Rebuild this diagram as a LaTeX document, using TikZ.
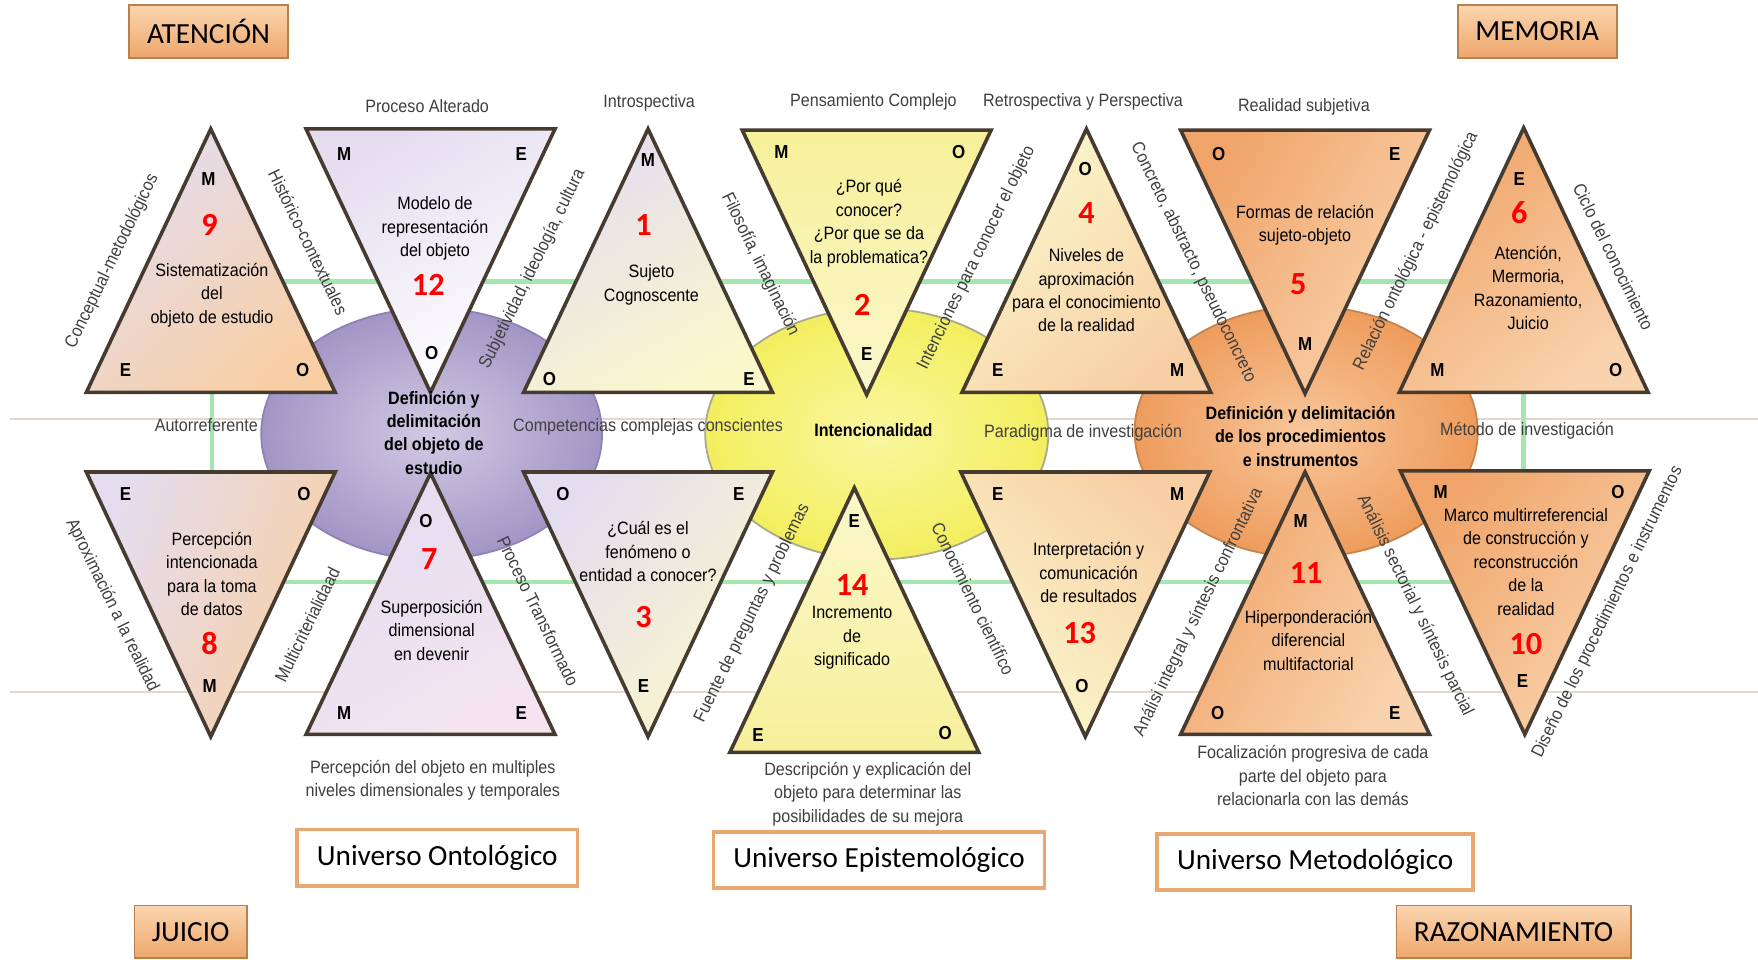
\documentclass[tikz,border=0pt]{standalone}
\usepackage{fontspec}
\setmainfont[FakeStretch=0.9]{Liberation Sans}
\newfontfamily\boxfont{Carlito}
\usepackage{tikz}

\definecolor{triline}{HTML}{463B30}
\definecolor{sidegray}{HTML}{3F3F3F}
\definecolor{greenln}{HTML}{A3E6AE}
\definecolor{faintln}{HTML}{E4D8C8}
\definecolor{boxtop}{HTML}{FBD5AF}
\definecolor{boxbot}{HTML}{EEA76C}
\definecolor{boxline}{HTML}{B9804C}
\definecolor{uniline}{HTML}{E9A871}
\definecolor{lav}{HTML}{E4DDF0}
\definecolor{peach}{HTML}{F8CFA5}
\definecolor{paleyel}{HTML}{FBF7CC}
\definecolor{yel}{HTML}{F6F09A}
\definecolor{orng}{HTML}{F0A469}
\definecolor{lorng}{HTML}{F9D3AE}
\definecolor{pinklav}{HTML}{F4E4F0}
\definecolor{purpin}{HTML}{D2CAE4}
\definecolor{purpout}{HTML}{A295C5}
\definecolor{purpline}{HTML}{8E81B4}
\definecolor{yelin}{HTML}{FAF7A0}
\definecolor{yelout}{HTML}{F3EE5E}
\definecolor{yelline}{HTML}{A9A78E}
\definecolor{orin}{HTML}{F8C79C}
\definecolor{orout}{HTML}{EE9C5C}
\definecolor{orline}{HTML}{C6844C}

\begin{document}
\begin{tikzpicture}[x=0.022cm,y=-0.022cm,
    font=\fontsize{10}{13.1}\selectfont,
    tri/.style={draw=triline,line width=2pt},
    vlabel/.style={font=\fontsize{10.5}{12}\selectfont\bfseries,inner sep=0pt},
    numlabel/.style={text=red,font=\boxfont\fontsize{18}{18}\selectfont\bfseries,inner sep=0pt},
    intext/.style={align=center,inner sep=0pt},
    sidelabel/.style={text=sidegray,inner sep=0pt,align=center},
    circtext/.style={align=center,inner sep=0pt,font=\fontsize{10}{13.1}\selectfont\bfseries},
    cornerbox/.style={draw=boxline,line width=1pt,top color=boxtop,bottom color=boxbot,
      font=\boxfont\fontsize{16.3}{16.3}\selectfont,minimum height=1.03cm},
    unibox/.style={draw=uniline,line width=2pt,fill=white,
      font=\boxfont\fontsize{16.3}{16.3}\selectfont,minimum height=1.1cm}]
    \useasboundingbox (0,0) rectangle (1568,856);
    %
    \draw[faintln,line width=1.2pt] (9,374) -- (1568,374);
    \draw[faintln,line width=1.2pt] (9,617) -- (1568,617);
    \draw[greenln,line width=2.5pt] (189,251) rectangle (1359,519);
    %
    \shade[draw=purpline,line width=1pt,inner color=purpin,outer color=purpout]
      (385,387) ellipse [x radius=152, y radius=112];
    \shade[draw=yelline,line width=1pt,inner color=yelin,outer color=yelout]
      (782,387) ellipse [x radius=153, y radius=112];
    \shade[draw=orline,line width=1pt,inner color=orin,outer color=orout]
      (1165,385) ellipse [x radius=153, y radius=112];
    %
    % upper row
    \shade[tri,top color=lav,bottom color=peach,shading angle=40]
      (188,115) -- (77,350) -- (299,350) -- cycle;
    \shade[tri,top color=lav,bottom color=white,shading angle=30]
      (273,115) -- (495,115) -- (384,350) -- cycle;
    \shade[tri,top color=lav,bottom color=paleyel,shading angle=30]
      (578,115) -- (467,350) -- (689,350) -- cycle;
    \shade[tri,top color=yel,bottom color=paleyel]
      (662,116) -- (884,116) -- (773,352) -- cycle;
    \shade[tri,top color=paleyel,bottom color=peach,shading angle=40]
      (969,115) -- (858,350) -- (1080,350) -- cycle;
    \shade[tri,top color=orng,bottom color=lorng,shading angle=60]
      (1053,116) -- (1275,116) -- (1164,351) -- cycle;
    \shade[tri,top color=orng,bottom color=lorng,shading angle=40]
      (1359,114) -- (1248,350) -- (1470,350) -- cycle;
    % lower row
    \shade[tri,top color=lav,bottom color=peach,shading angle=70]
      (77,421) -- (299,421) -- (188,657) -- cycle;
    \shade[tri,top color=lav,bottom color=pinklav,shading angle=30]
      (384,422) -- (273,655) -- (495,655) -- cycle;
    \shade[tri,top color=lav,bottom color=paleyel,shading angle=50]
      (467,421) -- (689,421) -- (578,657) -- cycle;
    \shade[tri,top color=paleyel,bottom color=yel]
      (762,435) -- (651,671) -- (873,671) -- cycle;
    \shade[tri,top color=peach,bottom color=paleyel,shading angle=-40]
      (857,421) -- (1079,421) -- (968,657) -- cycle;
    \shade[tri,top color=orng,bottom color=lorng,shading angle=60]
      (1164,421) -- (1053,655) -- (1275,655) -- cycle;
    \shade[tri,top color=orng,bottom color=lorng,shading angle=50]
      (1249,420) -- (1471,420) -- (1360,655) -- cycle;
    %
    % vertex letters
    \node[vlabel] (m9) at (186,160) {M};
    \node[vlabel] (e9) at (112,330) {E};
    \node[vlabel] (o9) at (270,330) {O};
    \node[vlabel] (m12) at (307,137) {M};
    \node[vlabel] (e12) at (465,137) {E};
    \node[vlabel] (o12) at (385,315) {O};
    \node[vlabel] (m1) at (578,143) {M};
    \node[vlabel] (o1) at (490,338) {O};
    \node[vlabel] (e1) at (668,338) {E};
    \node[vlabel] (m2) at (697,136) {M};
    \node[vlabel] (o2) at (855,136) {O};
    \node[vlabel] (e2) at (773,316) {E};
    \node[vlabel] (o4) at (968,151) {O};
    \node[vlabel] (e4) at (890,330) {E};
    \node[vlabel] (m4) at (1050,330) {M};
    \node[vlabel] (o5) at (1087,137) {O};
    \node[vlabel] (e5) at (1244,137) {E};
    \node[vlabel] (m5) at (1164,307) {M};
    \node[vlabel] (e6) at (1355,160) {E};
    \node[vlabel] (m6) at (1282,330) {M};
    \node[vlabel] (o6) at (1441,330) {O};
    \node[vlabel] (e8) at (112,441) {E};
    \node[vlabel] (o8) at (271,441) {O};
    \node[vlabel] (m8) at (187,612) {M};
    \node[vlabel] (o7) at (380,465) {O};
    \node[vlabel] (m7) at (307,636) {M};
    \node[vlabel] (e7) at (465,636) {E};
    \node[vlabel] (o3) at (502,441) {O};
    \node[vlabel] (ea3) at (659,441) {E};
    \node[vlabel] (eb3) at (574,612) {E};
    \node[vlabel] (ea14) at (762,465) {E};
    \node[vlabel] (eb14) at (676,656) {E};
    \node[vlabel] (o14) at (843,654) {O};
    \node[vlabel] (e13) at (890,441) {E};
    \node[vlabel] (m13) at (1050,441) {M};
    \node[vlabel] (o13) at (965,612) {O};
    \node[vlabel] (m11) at (1160,465) {M};
    \node[vlabel] (o11) at (1086,636) {O};
    \node[vlabel] (e11) at (1244,636) {E};
    \node[vlabel] (m10) at (1285,439) {M};
    \node[vlabel] (o10) at (1443,439) {O};
    \node[vlabel] (e10) at (1358,607) {E};
    %
    % numbers
    \node[numlabel] (n9) at (187,201) {9};
    \node[numlabel] (n12) at (382,254) {12};
    \node[numlabel] (n1) at (574,201) {1};
    \node[numlabel] (n2) at (769,272) {2};
    \node[numlabel] (n4) at (969,190) {4};
    \node[numlabel] (n5) at (1158,253) {5};
    \node[numlabel] (n6) at (1355,190) {6};
    \node[numlabel] (n8) at (187,574) {8};
    \node[numlabel] (n7) at (383,499) {7};
    \node[numlabel] (n3) at (574,550) {3};
    \node[numlabel] (n14) at (760,522) {14};
    \node[numlabel] (n13) at (963,565) {13};
    \node[numlabel] (n11) at (1165,511) {11};
    \node[numlabel] (n10) at (1361,574) {10};
    %
    % texts in the triangles
    \node[intext] (t9) at (189,263) {Sistematización\\del\\objeto de estudio};
    \node[intext] (t12) at (388,204) {Modelo de\\representación\\del objeto};
    \node[intext] (t1) at (581,254) {Sujeto\\Cognoscente};
    \node[intext] (t2) at (775,199) {¿Por qué\\conocer?\\¿Por que se da\\la problematica?};
    \node[intext] (t4) at (969,259) {Niveles de\\aproximación\\para el conocimiento\\de la realidad};
    \node[intext] (t5) at (1164,201) {Formas de relación\\sujeto-objeto};
    \node[intext] (t6) at (1363,257) {Atención,\\Mermoria,\\Razonamiento,\\Juicio};
    \node[intext] (t8) at (189,512) {Percepción\\intencionada\\para la toma\\de datos};
    \node[intext] (t7) at (385,562) {Superposición\\dimensional\\en devenir};
    \node[intext] (t3) at (578,492) {¿Cuál es el\\fenómeno o\\entidad a conocer?};
    \node[intext] (t14) at (760,569) {Incremento\\de\\significado};
    \node[intext] (t13) at (971,511) {Interpretación y\\comunicación\\de resultados};
    \node[intext] (t11) at (1167,571) {Hiperponderación\\diferencial\\multifactorial};
    \node[intext] (t10) at (1361,501) {Marco multirreferencial\\de construcción y\\reconstrucción\\de la\\realidad};
    %
    % texts in the circles
    \node[circtext] (cpurp) at (387,386) {Definición y\\delimitación\\del objeto de\\estudio};
    \node[circtext] (cyel) at (779,384) {Intencionalidad};
    \node[circtext] (cor) at (1160,389) {Definición y delimitación\\de los procedimientos\\e instrumentos};
    %
    % labels over and under
    \node[sidelabel] (lpa) at (381,95) {Proceso Alterado};
    \node[sidelabel] (lint) at (579,92) {Introspectiva};
    \node[sidelabel] (lpc) at (779,91) {Pensamiento Complejo};
    \node[sidelabel] (lrp) at (966,91) {Retrospectiva y Perspectiva};
    \node[sidelabel] (lrs) at (1163,95) {Realidad subjetiva};
    \node[sidelabel] (laut) at (184,379) {Autorreferente};
    \node[sidelabel] (lcomp) at (578,381) {Competencias complejas conscientes};
    \node[sidelabel] (lpar) at (966,386) {Paradigma de investigación};
    \node[sidelabel] (lmet) at (1362,384) {Método de investigación};
    \node[sidelabel] (lperc) at (386,696) {Percepción del objeto en multiples\\niveles dimensionales y temporales};
    \node[sidelabel] (ldesc) at (774,708) {Descripción y explicación del\\objeto para determinar las\\posibilidades de su mejora};
    \node[sidelabel] (lfoc) at (1171,692) {Focalización progresiva de cada\\parte del objeto para\\relacionarla con las demás};
    %
    % labels along the sides
    \node[sidelabel,rotate=64] (lcm) at (100,233) {Conceptual-metodológicos};
    \node[sidelabel,rotate=-64] (lhc) at (275,216) {Histórico-contextuales};
    \node[sidelabel,rotate=64] (lsic) at (475,240) {Subjetividad, ideología, cultura};
    \node[sidelabel,rotate=-64] (lfi) at (678,236) {Filosofía, imaginación};
    \node[sidelabel,rotate=64] (lico) at (871,230) {Intenciones para conocer el objeto};
    \node[sidelabel,rotate=-64] (lcap) at (1064,234) {Concreto, abstracto, pseudoconcreto};
    \node[sidelabel,rotate=64] (lroe) at (1263,224) {Relación ontológica - epistemológica};
    \node[sidelabel,rotate=-64] (lcc) at (1439,229) {Ciclo del conocimiento};
    \node[sidelabel,rotate=-64] (lar) at (100,540) {Aproximación a la realidad};
    \node[sidelabel,rotate=64] (lmul) at (274,557) {Multicriterialidaad};
    \node[sidelabel,rotate=-64] (lpt) at (480,545) {Proceso Transformado};
    \node[sidelabel,rotate=64] (lfpp) at (671,547) {Fuente de preguntas y problemas};
    \node[sidelabel,rotate=-64] (lcci) at (868,534) {Conocimiento científico};
    \node[sidelabel,rotate=64] (laisc) at (1069,546) {Análisi integral y síntesis confrontativa};
    \node[sidelabel,rotate=-64] (lassp) at (1262,540) {Análisis sectorial y síntesis parcial};
    \node[sidelabel,rotate=64] (ldpi) at (1434,546) {Diseño de los procedimientos e instrumentos};
    %
    % boxes
    \node[cornerbox,minimum width=3.12cm] (aten) at (186,28) {ATENCIÓN};
    \node[cornerbox,minimum width=3.12cm] (memo) at (1371,28) {MEMORIA};
    \node[cornerbox,minimum width=2.2cm] (juic) at (170,831) {JUICIO};
    \node[cornerbox,minimum width=4.6cm] (razo) at (1350,831) {RAZONAMIENTO};
    \node[unibox,minimum width=5.5cm] (uonto) at (390,765) {Universo Ontológico};
    \node[unibox,minimum width=6.5cm] (uepis) at (784,767) {Universo Epistemológico};
    \node[unibox,minimum width=6.2cm] (umeto) at (1173,769) {Universo Metodológico};
  \end{tikzpicture}
\end{document}
